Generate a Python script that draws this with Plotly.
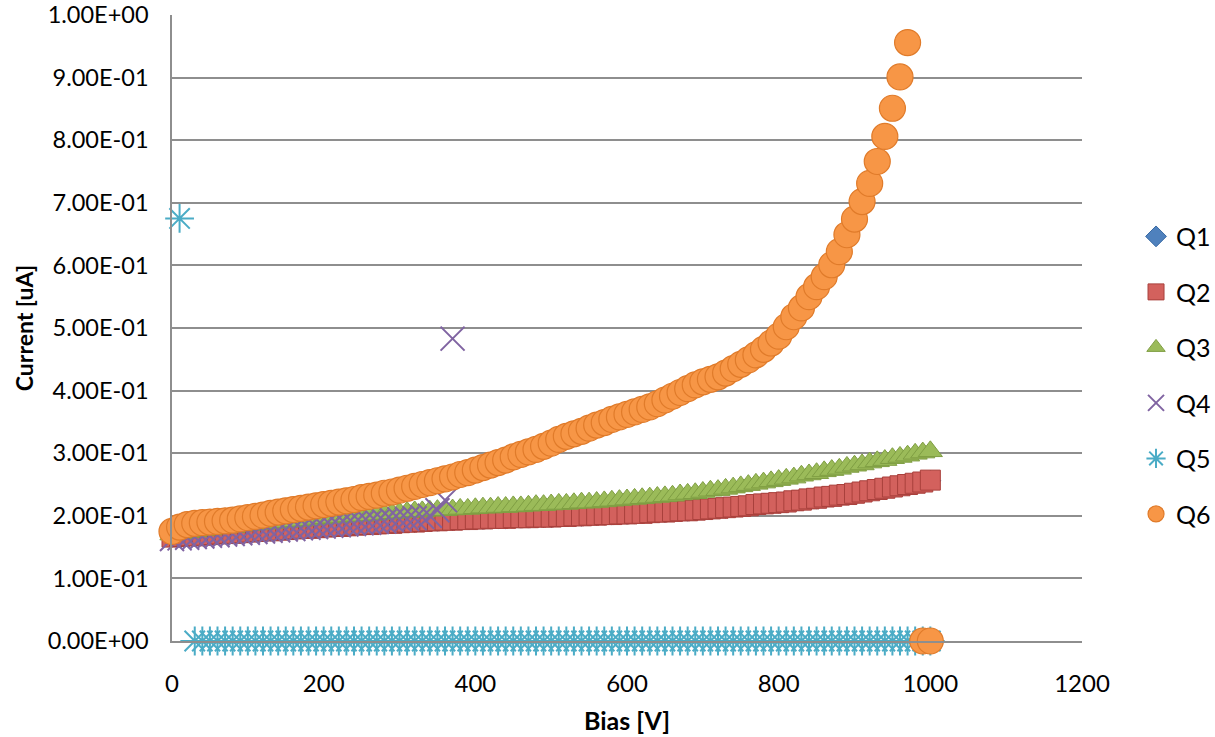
import plotly.graph_objects as go

# ---- data ----
bias = list(range(0, 1010, 10))

q1 = [0.166, 0.167, 0.168, 0.168, 0.169, 0.170, 0.171, 0.172, 0.172, 0.173,
      0.174, 0.175, 0.176, 0.176, 0.177, 0.178, 0.179, 0.180, 0.180, 0.181,
      0.182, 0.183, 0.183, 0.184, 0.185, 0.186, 0.186, 0.187, 0.188, 0.188,
      0.189, 0.190, 0.190, 0.191, 0.192, 0.192, 0.193, 0.193, 0.194, 0.194,
      0.195, 0.195, 0.196, 0.196, 0.196, 0.197, 0.197, 0.197, 0.198, 0.198,
      0.198, 0.199, 0.199, 0.200, 0.200, 0.201, 0.201, 0.202, 0.202, 0.203,
      0.203, 0.204, 0.204, 0.205, 0.206, 0.206, 0.207, 0.208, 0.208, 0.209,
      0.210, 0.211, 0.212, 0.213, 0.214, 0.215, 0.216, 0.218, 0.219, 0.220,
      0.221, 0.222, 0.224, 0.225, 0.227, 0.228, 0.230, 0.231, 0.233, 0.234,
      0.236, 0.238, 0.240, 0.242, 0.244, 0.246, 0.248, 0.250, 0.252, 0.254,
      0.256]

q2 = [0.166, 0.167, 0.168, 0.168, 0.169, 0.170, 0.171, 0.172, 0.172, 0.173,
      0.174, 0.175, 0.176, 0.176, 0.177, 0.178, 0.179, 0.180, 0.180, 0.181,
      0.182, 0.183, 0.183, 0.184, 0.185, 0.186, 0.186, 0.187, 0.188, 0.188,
      0.189, 0.190, 0.190, 0.191, 0.192, 0.192, 0.193, 0.193, 0.194, 0.194,
      0.195, 0.195, 0.196, 0.196, 0.196, 0.197, 0.197, 0.197, 0.198, 0.198,
      0.198, 0.199, 0.199, 0.200, 0.200, 0.201, 0.201, 0.202, 0.202, 0.203,
      0.203, 0.204, 0.204, 0.205, 0.206, 0.206, 0.207, 0.208, 0.208, 0.209,
      0.210, 0.211, 0.212, 0.213, 0.214, 0.215, 0.216, 0.218, 0.219, 0.220,
      0.221, 0.222, 0.224, 0.225, 0.227, 0.228, 0.230, 0.231, 0.233, 0.234,
      0.236, 0.238, 0.240, 0.242, 0.244, 0.246, 0.248, 0.250, 0.252, 0.254,
      0.257]

q3 = [0.170, 0.172, 0.174, 0.175, 0.177, 0.178, 0.180, 0.181, 0.182, 0.184,
      0.185, 0.186, 0.187, 0.188, 0.189, 0.190, 0.191, 0.192, 0.193, 0.195,
      0.196, 0.197, 0.198, 0.199, 0.200, 0.200, 0.201, 0.202, 0.203, 0.204,
      0.205, 0.206, 0.207, 0.207, 0.208, 0.209, 0.209, 0.210, 0.211, 0.211,
      0.212, 0.213, 0.213, 0.214, 0.214, 0.215, 0.215, 0.216, 0.217, 0.217,
      0.218, 0.219, 0.219, 0.220, 0.221, 0.221, 0.222, 0.223, 0.224, 0.225,
      0.226, 0.227, 0.228, 0.229, 0.230, 0.231, 0.232, 0.234, 0.235, 0.236,
      0.238, 0.240, 0.241, 0.243, 0.245, 0.247, 0.249, 0.251, 0.253, 0.255,
      0.257, 0.259, 0.261, 0.264, 0.266, 0.268, 0.271, 0.273, 0.275, 0.278,
      0.280, 0.282, 0.285, 0.287, 0.289, 0.292, 0.294, 0.296, 0.299, 0.301,
      0.303]

q4_bias = [0, 10, 20, 30, 40, 50, 60, 70, 80, 90,
           100, 110, 120, 130, 140, 150, 160, 170, 180, 190,
           200, 210, 220, 230, 240, 250, 260, 270, 280, 290,
           300, 310, 320, 330, 340, 350, 360, 370]
q4 = [0.163, 0.164, 0.165, 0.166, 0.167, 0.168, 0.169, 0.170, 0.171, 0.172,
      0.173, 0.174, 0.175, 0.176, 0.177, 0.178, 0.179, 0.180, 0.181, 0.182,
      0.183, 0.184, 0.185, 0.186, 0.187, 0.188, 0.189, 0.190, 0.191, 0.193,
      0.194, 0.195, 0.196, 0.198, 0.200, 0.209, 0.225, 0.483]

q5_bias = [10] + list(range(30, 1010, 10))
q5 = [0.675] + [0.0] * 98

q6_bias = list(range(0, 980, 10)) + [990, 1000]
q6 = [0.175, 0.182, 0.186, 0.188, 0.189, 0.190, 0.191, 0.192, 0.193, 0.195,
      0.197, 0.199, 0.201, 0.204, 0.206, 0.208, 0.210, 0.212, 0.214, 0.216,
      0.218, 0.220, 0.222, 0.224, 0.226, 0.229, 0.231, 0.233, 0.236, 0.238,
      0.241, 0.244, 0.247, 0.250, 0.253, 0.256, 0.259, 0.262, 0.266, 0.269,
      0.273, 0.277, 0.281, 0.285, 0.289, 0.294, 0.298, 0.302, 0.306, 0.311,
      0.316, 0.322, 0.327, 0.331, 0.335, 0.340, 0.345, 0.349, 0.354, 0.358,
      0.362, 0.366, 0.370, 0.374, 0.379, 0.385, 0.391, 0.397, 0.403, 0.409,
      0.414, 0.418, 0.422, 0.428, 0.435, 0.442, 0.449, 0.457, 0.466, 0.476,
      0.487, 0.502, 0.518, 0.532, 0.550, 0.566, 0.582, 0.601, 0.622, 0.649,
      0.674, 0.702, 0.731, 0.766, 0.806, 0.851, 0.901, 0.956,
      0.0, 0.0]

y_tickvals = [0.0, 0.1, 0.2, 0.3, 0.4, 0.5, 0.6, 0.7, 0.8, 0.9, 1.0]
y_ticktext = ["0.00E+00", "1.00E-01", "2.00E-01", "3.00E-01", "4.00E-01",
              "5.00E-01", "6.00E-01", "7.00E-01", "8.00E-01", "9.00E-01",
              "1.00E+00"]
x_tickvals = [0, 200, 400, 600, 800, 1000, 1200]

FONT = "Lato"

fig = go.Figure()

series = [
    ("Q1", bias, q1, dict(symbol="diamond", size=16, color="#4F81BD",
                          line=dict(color="#3A6BA5", width=1))),
    ("Q2", bias, q2, dict(symbol="square", size=20, color="#D3615D",
                          line=dict(color="#A9403C", width=1))),
    ("Q3", bias, q3, dict(symbol="triangle-up", size=21, color="#9BBB59",
                          line=dict(color="#7F9E43", width=1))),
    ("Q4", q4_bias, q4, dict(symbol="x-thin-open", size=24, color="#8064A2",
                             line=dict(color="#8064A2", width=2))),
    ("Q5", q5_bias, q5, dict(symbol="asterisk-open", size=24, color="#4BACC6",
                             line=dict(color="#4BACC6", width=2))),
    ("Q6", q6_bias, q6, dict(symbol="circle", size=26, color="#F79646",
                             line=dict(color="#E07B2A", width=1.2))),
]

for name, xs, ys, mk in series:
    fig.add_trace(go.Scatter(
        x=xs, y=ys, mode="markers", name=name, marker=mk,
        legendgroup=name, cliponaxis=False,
    ))

fig.update_layout(
    width=1215, height=737,
    margin=dict(l=172, r=133, t=15, b=96),
    paper_bgcolor="white", plot_bgcolor="white",
    font=dict(family=FONT, size=23, color="black"),
    legend=dict(
        xref="container", yref="container",
        x=0.935, y=0.491, xanchor="left", yanchor="middle",
        font=dict(family=FONT, size=25, color="black"),
        tracegroupgap=20, itemsizing="trace", itemwidth=30,
        bgcolor="rgba(0,0,0,0)",
    ),
    xaxis=dict(
        range=[0, 1200], tickvals=x_tickvals, automargin=False,
        showgrid=False, zeroline=False,
        showline=True, linecolor="#8E8E8E", linewidth=1.5,
        ticks="outside", ticklen=20, tickcolor="rgba(0,0,0,0)",
        tickfont=dict(family=FONT, size=24),
        title=dict(text="Bias [V]",
                   font=dict(family=FONT, size=25, weight="bold"),
                   standoff=17),
    ),
    yaxis=dict(
        range=[0, 1.0], tickvals=y_tickvals, ticktext=y_ticktext,
        automargin=False,
        showgrid=True, gridcolor="#8E8E8E", gridwidth=1.5,
        zeroline=False,
        showline=True, linecolor="#8E8E8E", linewidth=1.5,
        ticks="outside", ticklen=17, tickcolor="rgba(0,0,0,0)",
        tickfont=dict(family=FONT, size=23.5),
        title=dict(text="Current [uA]",
                   font=dict(family=FONT, size=23, weight="bold"),
                   standoff=8),
    ),
)

# remove the browser's default 8px body margin so the figure fills the window
fig.write_html("out.html",
               config={"displayModeBar": False},
               post_script="document.body.style.margin='0';"
                           "document.body.style.overflow='hidden';")
